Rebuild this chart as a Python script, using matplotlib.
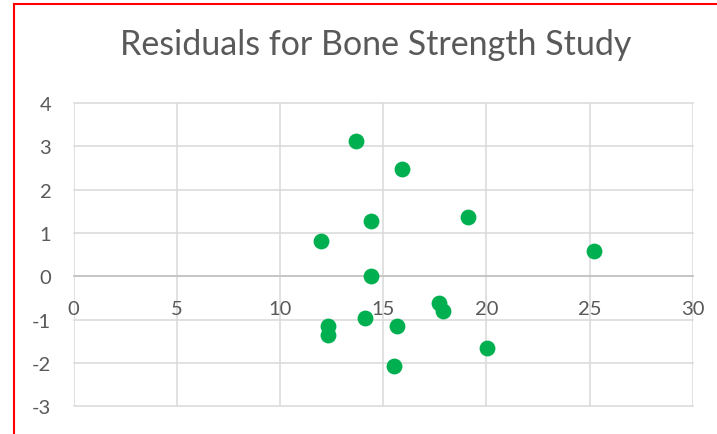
import matplotlib
matplotlib.use("Agg")
import matplotlib.pyplot as plt
from matplotlib.lines import Line2D

# predicted values vs residuals
predicted = [13.70, 15.90, 19.13, 14.41, 12.01, 14.41, 17.69, 17.90,
             14.11, 15.69, 12.32, 12.32, 20.02, 15.51, 25.22]
residuals = [3.13, 2.48, 1.38, 1.28, 0.82, 0.00, -0.61, -0.81,
             -0.96, -1.14, -1.15, -1.35, -1.66, -2.06, 0.58]

x_ticks = [0, 5, 10, 15, 20, 25, 30]
y_ticks = [-3, -2, -1, 0, 1, 2, 3, 4]

plt.rcParams['font.family'] = ['Lato', 'DejaVu Sans']
plt.rcParams['axes.unicode_minus'] = False
text_col = '#595959'
grid_col = '#d9d9d9'

W, H = 717, 435
fig = plt.figure(figsize=(W / 100, H / 100), dpi=100)
ax = fig.add_axes([73.5 / W, (H - 407.3) / H, (692.7 - 73.5) / W, (407.3 - 104) / H])

ax.scatter(predicted, residuals, s=130, color='#00B050', zorder=3, linewidths=0)

ax.set_xlim(0, 30)
ax.set_ylim(-3, 4)
ax.set_xticks(x_ticks)
ax.set_yticks(y_ticks)
ax.grid(True, color=grid_col, linewidth=1.1)
ax.set_axisbelow(True)
for gl in ax.get_xgridlines() + ax.get_ygridlines():
    gl.set_clip_on(False)

for side in ['left', 'right', 'top']:
    ax.spines[side].set_visible(False)
ax.spines['bottom'].set_position(('data', 0))
ax.spines['bottom'].set_color('#bfbfbf')
ax.spines['bottom'].set_linewidth(1.1)
ax.spines['bottom'].set_zorder(2)

ax.tick_params(axis='x', length=0, pad=17, labelsize=14.5, labelcolor=text_col)
ax.tick_params(axis='y', length=0, pad=16, labelsize=14.5, labelcolor=text_col)

fig.text(375.5 / W, 1 - 45 / H, 'Residuals for Bone Strength Study',
         ha='center', va='center', fontsize=24.5, color=text_col)

# selection border around the chart
fig.add_artist(Line2D([14 / W, 14 / W], [0, 1 - 5 / H], transform=fig.transFigure,
                      color='#ff0000', linewidth=1.5))
fig.add_artist(Line2D([14 / W, 1], [1 - 5 / H, 1 - 5 / H], transform=fig.transFigure,
                      color='#ff0000', linewidth=1.5))

fig.savefig('out.png', dpi=100)
